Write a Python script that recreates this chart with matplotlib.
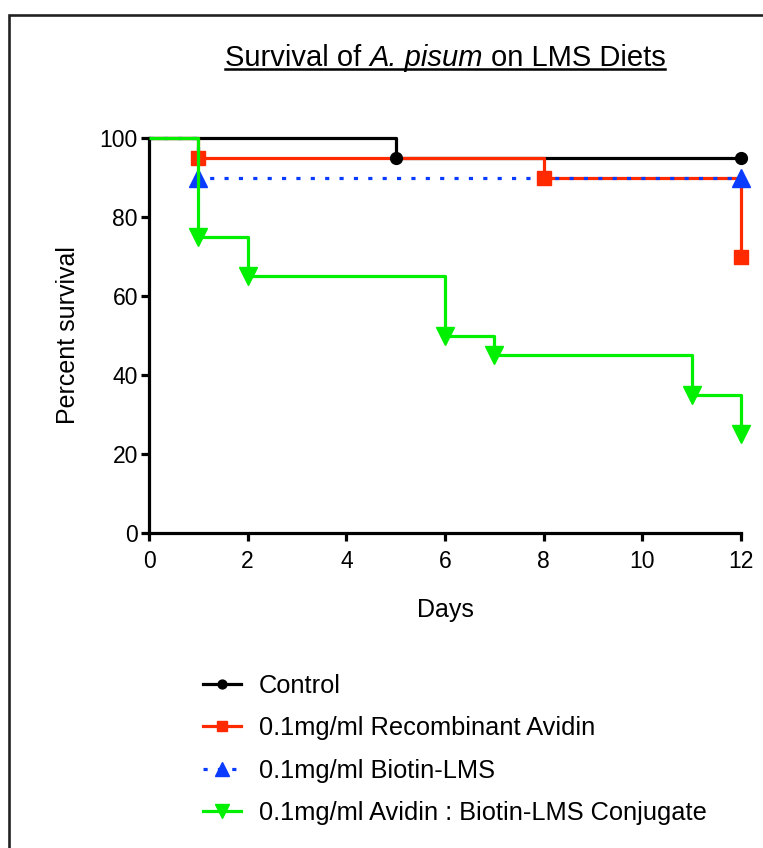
import matplotlib.pyplot as plt
from matplotlib.lines import Line2D
from matplotlib.patches import Rectangle

plt.rcParams['font.family'] = ['Liberation Sans', 'DejaVu Sans']

# survival data (days, percent)
control_days = [0, 5, 12]
control_surv = [100, 95, 95]
avidin_days = [0, 1, 8, 12]
avidin_surv = [100, 95, 90, 70]
biotin_days = [0, 1, 12]
biotin_surv = [100, 90, 90]
conj_days = [0, 1, 2, 6, 7, 11, 12]
conj_surv = [100, 75, 65, 50, 45, 35, 25]

labels = ["Control", "0.1mg/ml Recombinant Avidin", "0.1mg/ml Biotin-LMS",
          "0.1mg/ml Avidin : Biotin-LMS Conjugate"]
title_parts = [("Survival of", "normal"), ("A. pisum", "italic"), ("on LMS Diets", "normal")]

W, H = 763, 848
fig = plt.figure(figsize=(W / 100, H / 100), dpi=100)
ax = fig.add_axes([149 / W, 1 - 533 / H, (741 - 149) / W, (533 - 138) / H])

# outer frame (runs off the right and bottom of the picture)
fig.patches.append(Rectangle((9 / W, -0.1), 1.2, 1 - 15 / H + 0.1, transform=fig.transFigure,
                             fill=False, lw=1.9, ec='#222222', clip_on=False))

lw = 2.3
series = [
    (control_days, control_surv, 'black', '-', 'o', 8.5, 3),
    (avidin_days, avidin_surv, '#ff2a00', '-', 's', 9.5, 3),
    (biotin_days, biotin_surv, '#0a3cff', (0, (1.3, 3.2)), '^', 13, 3),
    (conj_days, conj_surv, '#00f000', '-', 'v', 12.5, 4),
]

handles = []
for (d, s, c, ls, m, ms, z), lab in zip(series, labels):
    ax.step(d, s, where='post', color=c, lw=lw, ls=ls, zorder=z - 1 if z == 3 else z,
            solid_capstyle='butt', dash_capstyle='butt', clip_on=False)
    ax.plot(d[1:], s[1:], ls='none', marker=m, ms=ms, color=c, mec=c, zorder=z, clip_on=False)
    handles.append(Line2D([], [], color=c, lw=lw, ls=ls, marker=m, ms=ms * 0.75,
                          dash_capstyle='butt'))

ax.set_xlim(0, 12)
ax.set_ylim(0, 100)
ax.set_xticks(range(0, 13, 2))
ax.set_yticks(range(0, 101, 20))
for sp in ['top', 'right']:
    ax.spines[sp].set_visible(False)
for sp in ['left', 'bottom']:
    ax.spines[sp].set_linewidth(2.3)
ax.tick_params(direction='out', length=6, width=2.3, labelsize=16.5, pad=2)
ax.tick_params(axis='x', pad=6)
ax.set_xlabel('Days', fontsize=18, labelpad=18)
ax.set_ylabel('Percent survival', fontsize=18, labelpad=14)

# underlined title, built from pieces so the species name can be italic
tsize = 21
renderer = fig.canvas.get_renderer()
def text_width(s, style):
    t = fig.text(0, 0, s, fontsize=tsize, style=style)
    w = t.get_window_extent(renderer).width
    t.remove()
    return w
space = text_width("a a", "normal") - text_width("aa", "normal")
widths = [text_width(s, st) for s, st in title_parts]
total = sum(widths) + space * (len(widths) - 1)
x = 445 - total / 2
x_start = x
for (s, st), w in zip(title_parts, widths):
    fig.text(x / W, 1 - 66 / H, s, fontsize=tsize, style=st, ha='left', va='baseline')
    x += w + space
uy = (H - 69) / H
fig.add_artist(Line2D([x_start / W, (x_start + total) / W], [uy, uy], color='black', lw=1.8,
                      transform=fig.transFigure))

fig.legend(handles, labels, loc='upper left', bbox_to_anchor=(203 / W, 1 - 674 / H),
           frameon=False, fontsize=18.3, handlelength=1.5, handletextpad=0.7,
           labelspacing=0.72, borderpad=0, borderaxespad=0)

fig.savefig('out.png', dpi=100)
